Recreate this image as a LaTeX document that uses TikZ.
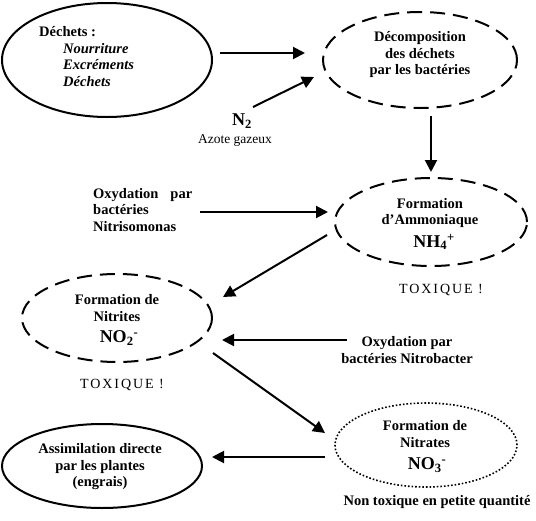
\documentclass[tikz,border=0pt]{standalone}
\usepackage{fontspec}
\setmainfont{Liberation Serif}
\newfontfamily\spacedfont[LetterSpace=14]{Liberation Serif}
\usetikzlibrary{shapes.geometric,arrows.meta}
\begin{document}
\begin{tikzpicture}[x=1pt,y=-1pt,
  solidell/.style={ellipse, draw, line width=2pt, inner sep=0pt},
  dashell/.style={ellipse, draw, line width=2pt, inner sep=0pt, dash pattern=on 15pt off 8pt},
  dotell/.style={ellipse, draw, line width=1.6pt, inner sep=0pt, dash pattern=on 1.6pt off 2pt},
  arr/.style={line width=2pt, -{Triangle[length=12pt,width=12pt]}},
  lbl/.style={font=\fontsize{14.5}{16.5}\selectfont\bfseries, align=center, inner sep=0pt},
  big/.style={font=\fontsize{18}{19}\selectfont\bfseries, inner sep=0pt},
  plain/.style={font=\fontsize{13.5}{15}\selectfont, inner sep=0pt},
  tox/.style={font=\fontsize{14}{15}\selectfont\spacedfont, inner sep=0pt}]
\useasboundingbox (0,0) rectangle (536,520);
\fill[white] (0,0) rectangle (536,520);

% ellipses
\node[solidell, minimum width=210pt, minimum height=114pt] (dechets) at (107,60) {};
\node[dashell, minimum width=194pt, minimum height=96pt] (decomp) at (420,60) {};
\node[dashell, minimum width=192pt, minimum height=88pt] (ammo) at (431,222) {};
\node[dashell, minimum width=190pt, minimum height=88pt] (nitrites) at (117,318) {};
\node[dotell, minimum width=182pt, minimum height=84pt] (nitrates) at (426,445) {};
\node[solidell, minimum width=200pt, minimum height=84pt] (assim) at (102,466) {};

% texts
\node[lbl, anchor=west] (tdech) at (39,32) {Déchets :};
\node[lbl, anchor=west, align=left, font=\fontsize{14.5}{16.5}\selectfont\bfseries\itshape] (tdechlist) at (63,65) {Nourriture\\Excréments\\Déchets};
\node[big] (n2) at (242,121) {N\textsubscript{2}};
\node[plain] (azote) at (235,140) {Azote gazeux};
\node[lbl] (tdecomp) at (420,55) {Décomposition\\des déchets\\par les bactéries};
\node[lbl, anchor=west, align=left] (tnitroso) at (93,210) {Oxydation\hspace{12pt}par\\bactéries\\Nitrisomonas};
\node[lbl] (tammo) at (430,213) {Formation\\d’Ammoniaque};
\node[big] (nh4) at (434,242) {NH\textsubscript{4}\textsuperscript{+}};
\node[tox] (tox1) at (441,290) {TOXIQUE !};
\node[lbl] (tnitrites) at (117,308) {Formation de\\Nitrites};
\node[big] (no2) at (119,338) {NO\textsubscript{2}\textsuperscript{-}};
\node[lbl] (tnitrob) at (407,350) {Oxydation par\\bactéries Nitrobacter};
\node[tox] (tox2) at (122,385) {TOXIQUE !};
\node[lbl] (tassim) at (100,467) {Assimilation directe\\par les plantes\\(engrais)};
\node[lbl] (tnitrates) at (425,434) {Formation de\\Nitrates};
\node[big] (no3) at (427,465) {NO\textsubscript{3}\textsuperscript{-}};
\node[lbl] (tnontox) at (437,502) {Non toxique en petite quantité};

% arrow end points
\coordinate (a1s) at (220,53);  \coordinate (a1e) at (305,53);
\coordinate (a2s) at (253,107); \coordinate (a2e) at (314,77);
\coordinate (a3s) at (431,116); \coordinate (a3e) at (431,172);
\coordinate (a4s) at (200,212); \coordinate (a4e) at (328,212);
\coordinate (a5s) at (327,235); \coordinate (a5e) at (223,297);
\coordinate (a6s) at (347,340); \coordinate (a6e) at (222,340);
\coordinate (a7s) at (213,353); \coordinate (a7e) at (325,433);
\coordinate (a8s) at (325,457); \coordinate (a8e) at (212,457);

\draw[arr] (a1s) -- (a1e);
\draw[arr] (a2s) -- (a2e);
\draw[arr] (a3s) -- (a3e);
\draw[arr] (a4s) -- (a4e);
\draw[arr] (a5s) -- (a5e);
\draw[arr] (a6s) -- (a6e);
\draw[arr] (a7s) -- (a7e);
\draw[arr] (a8s) -- (a8e);
\end{tikzpicture}
\end{document}
